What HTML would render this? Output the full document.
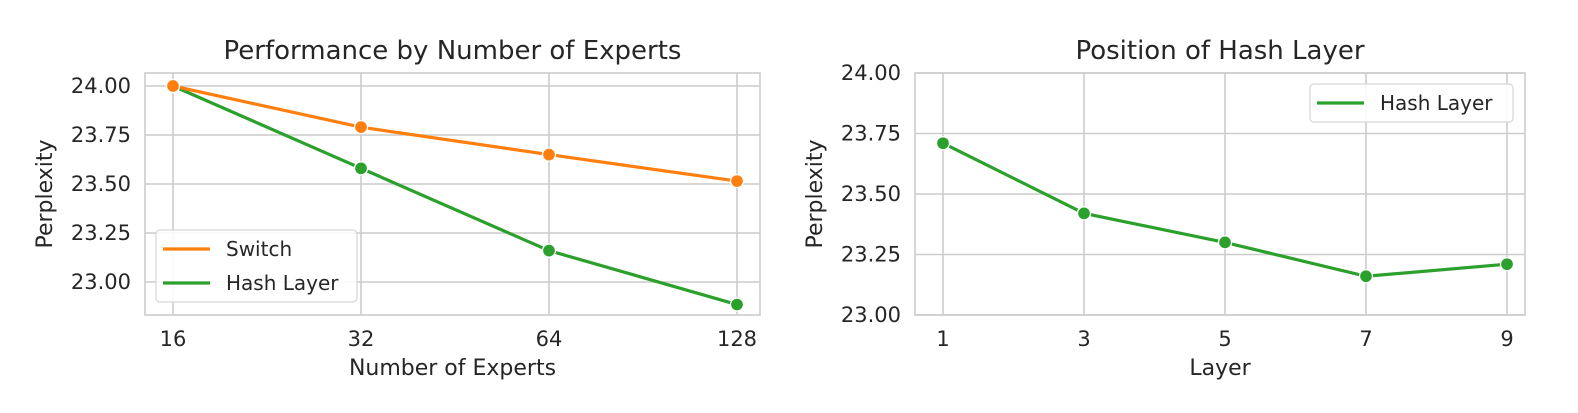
<!DOCTYPE html>
<html><head><meta charset="utf-8"><style>
body{margin:0;background:#fff}
svg text{font-family:"DejaVu Sans","Liberation Sans",sans-serif;fill:#262626}
</style></head><body>
<svg id="chart" width="1578" height="408" xmlns="http://www.w3.org/2000/svg">
<g id="left"></g>
<g id="right"></g>
</svg>
<script>
const expertCats = [16, 32, 64, 128];
const switchVals = [24.0, 23.79, 23.65, 23.515];
const hashVals = [24.0, 23.58, 23.16, 22.885];
const leftYTicks = [23.00, 23.25, 23.50, 23.75, 24.00];
const layerCats = [1, 3, 5, 7, 9];
const layerVals = [23.71, 23.42, 23.30, 23.16, 23.21];
const rightYTicks = [23.00, 23.25, 23.50, 23.75, 24.00];

const NS = "http://www.w3.org/2000/svg";
function mk(parent, tag, attrs, text){
  const e = document.createElementNS(NS, tag);
  for (const k in attrs) e.setAttribute(k, attrs[k]);
  if (text !== undefined) e.textContent = text;
  parent.appendChild(e);
  return e;
}
const ORANGE = "#ff7f0e", GREEN = "#2ca02c", GRID = "#cccccc";

function panel(g, box, xs, xLabels, yTicks, xf, yf, title, xTitle, series, legend){
  yTicks.forEach(t => {
    const y = yf(t);
    const l = mk(g, "line", {x1: box.l, x2: box.r, y1: y, y2: y, stroke: GRID, "stroke-width": 1.6});
    
    
    const tx = mk(g, "text", {x: box.l - 14, y: y + 7, "text-anchor": "end", "font-size": 21}, t.toFixed(2));
    
    
  });
  xs.forEach((c, i) => {
    const x = xf(c);
    const l = mk(g, "line", {x1: x, x2: x, y1: box.t, y2: box.b, stroke: GRID, "stroke-width": 1.6});
    
    
    const tx = mk(g, "text", {x: x, y: box.b + 31, "text-anchor": "middle", "font-size": 21}, xLabels[i]);
    
    
  });
  const fr = mk(g, "rect", {x: box.l, y: box.t, width: box.r - box.l, height: box.b - box.t, fill: "none", stroke: GRID, "stroke-width": 1.6});
  
  
  const ti = mk(g, "text", {x: (box.l + box.r) / 2, y: 59, "text-anchor": "middle", "font-size": 26}, title);
  
  
  const xt = mk(g, "text", {x: (box.l + box.r) / 2, y: 375, "text-anchor": "middle", "font-size": 22}, xTitle);
  
  
  const cy = (box.t + box.b) / 2;
  const yt = mk(g, "text", {x: 0, y: 0, "text-anchor": "middle", "font-size": 22, transform: `translate(${box.l - 93},${cy}) rotate(-90)`}, "Perplexity");
  
  
  series.slice().reverse().forEach(s => {
    const pts = xs.map((c, i) => xf(c) + "," + yf(s.vals[i])).join(" ");
    const pl = mk(g, "polyline", {points: pts, fill: "none", stroke: s.color, "stroke-width": 3.2});
    
    
    xs.forEach((c, i) => {
      const m = mk(g, "circle", {cx: xf(c), cy: yf(s.vals[i]), r: 6.5, fill: s.color, stroke: "#fff", "stroke-width": 1.3});
      
      
    });
  });
  const lg = mk(g, "g", {});
  
  
  const lr = mk(lg, "rect", {x: legend.x, y: legend.y, width: legend.w, height: 4 + series.length * 34, rx: 4, fill: "#fff", "fill-opacity": 0.85, stroke: "#d6d6d6", "stroke-width": 1.2});
  
  
  series.forEach((s, i) => {
    const y = legend.y + 19 + i * 34;
    const ll = mk(lg, "line", {x1: legend.x + 7, x2: legend.x + 54, y1: y, y2: y, stroke: s.color, "stroke-width": 3.2});
    
    
    const lt = mk(lg, "text", {x: legend.x + 70, y: y + 7, "font-size": 20}, s.label);
    
    
  });
}

const lBox = {l: 145, r: 760, t: 73, b: 315};
const lx = v => 173 + Math.log2(v / 16) * 188;
const ly = v => 86 + (24 - v) * 196;
panel(document.getElementById("left"), lBox, expertCats, expertCats.map(String), leftYTicks, lx, ly,
  "Performance by Number of Experts", "Number of Experts",
  [{name: "switch", label: "Switch", color: ORANGE, vals: switchVals},
   {name: "hash-layer", label: "Hash Layer", color: GREEN, vals: hashVals}],
  {x: 156, y: 230, w: 201});

const rBox = {l: 915, r: 1525, t: 73, b: 315};
const rx = v => 943 + (v - 1) * 70.5;
const ry = v => 73 + (24 - v) * 242;
panel(document.getElementById("right"), rBox, layerCats, layerCats.map(String), rightYTicks, rx, ry,
  "Position of Hash Layer", "Layer",
  [{name: "hash-layer", label: "Hash Layer", color: GREEN, vals: layerVals}],
  {x: 1310, y: 84, w: 203});
</script>
</body></html>
